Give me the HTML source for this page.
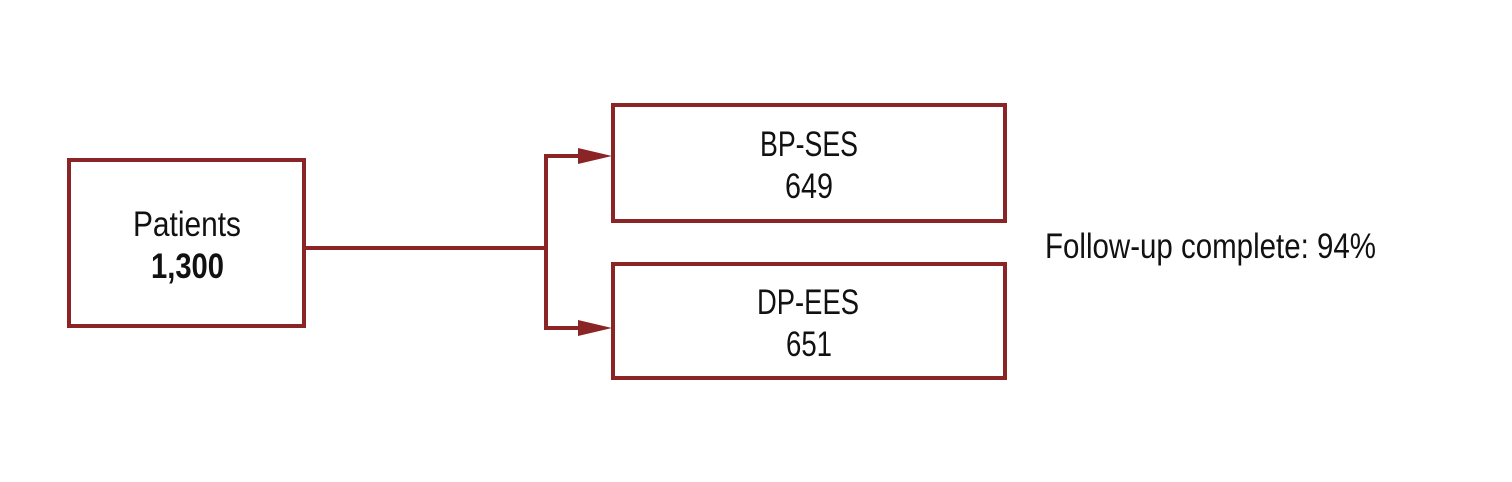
<!DOCTYPE html>
<html><head><meta charset="utf-8"><style>html,body{margin:0;padding:0;background:#fff}svg{display:block}</style></head>
<body>
<svg width="1512" height="482" viewBox="0 0 1512 482" xmlns="http://www.w3.org/2000/svg">
<g fill="none" stroke="#8b2525" stroke-width="4" stroke-linejoin="miter" stroke-linecap="square">
<rect x="69" y="160" width="235" height="166"/>
<rect x="613" y="105" width="392" height="116"/>
<rect x="613" y="264" width="392" height="114"/>
<path d="M304 248 H546"/>
<path d="M582 156 H546 V328 H582"/>
</g>
<g fill="#8b2525">
<polygon points="578,148 612,156 578,164"/>
<polygon points="578,320 612,328 578,336"/>
</g>
<g font-family="'Liberation Sans Narrow','Liberation Sans',sans-serif" font-size="35" fill="#111">
<text x="133" y="236" textLength="108" lengthAdjust="spacingAndGlyphs">Patients</text>
<text x="151" y="278" textLength="73" lengthAdjust="spacingAndGlyphs" font-weight="bold">1,300</text>
<text x="760" y="156" textLength="98" lengthAdjust="spacingAndGlyphs">BP-SES</text>
<text x="785" y="198" textLength="48" lengthAdjust="spacingAndGlyphs">649</text>
<text x="757" y="314" textLength="102" lengthAdjust="spacingAndGlyphs">DP-EES</text>
<text x="786" y="356" textLength="46" lengthAdjust="spacingAndGlyphs">651</text>
<text x="1045" y="258" textLength="331" lengthAdjust="spacingAndGlyphs">Follow-up complete: 94%</text>
</g>
</svg>
</body></html>
